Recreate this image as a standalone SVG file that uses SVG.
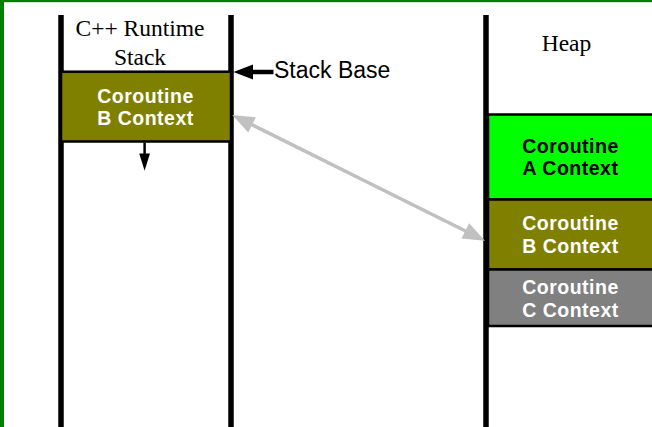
<svg xmlns="http://www.w3.org/2000/svg" width="652" height="427" viewBox="0 0 652 427">
<defs>
<style>
.serif{font-family:"Liberation Serif","Times New Roman",serif;font-size:23.5px;fill:#000;text-anchor:middle}
.lbl{font-family:"Liberation Sans",Arial,sans-serif;font-size:19.5px;font-weight:bold;text-anchor:middle;letter-spacing:0.5px}
.w{fill:#fff}
.k{fill:#000}
.wall{stroke:#000;stroke-width:5.5}
.box{stroke:#000;stroke-width:2.5}
.ga{fill:#c0c0c0}
</style>
</defs>
<rect x="0" y="0" width="652" height="427" fill="#fff"/>
<rect x="0" y="0" width="652" height="2.2" fill="#008000"/>
<rect x="0" y="0" width="4" height="427" fill="#008000"/>

<g id="runtime-stack">
<line class="wall" x1="61" y1="15" x2="61" y2="427"/>
<line class="wall" x1="231" y1="15" x2="231" y2="427"/>
<text class="serif" x="140" y="36">C++ Runtime</text>
<text class="serif" x="140" y="64.5">Stack</text>
</g>

<g id="stack-b-context">
<rect x="61" y="71.7" width="170" height="69.8" fill="#808000" class="box"/>
<text class="lbl w" x="145.5" y="102.5">Coroutine</text>
<text class="lbl w" x="145.5" y="124.5">B Context</text>
</g>

<g id="heap">
<line class="wall" x1="486" y1="15" x2="486" y2="427"/>
<text class="serif" x="566.5" y="50.5">Heap</text>
</g>

<g id="heap-a-context">
<rect x="488" y="114.5" width="170" height="85" fill="#00ff00" class="box"/>
<text class="lbl k" x="570.5" y="152.5">Coroutine</text>
<text class="lbl k" x="570.5" y="175">A Context</text>
</g>
<g id="heap-b-context">
<rect x="488" y="199.5" width="170" height="70" fill="#808000" class="box"/>
<text class="lbl w" x="570.5" y="230">Coroutine</text>
<text class="lbl w" x="570.5" y="252.5">B Context</text>
</g>
<g id="heap-c-context">
<rect x="488" y="269.5" width="170" height="56.5" fill="#808080" class="box"/>
<text class="lbl w" x="570.5" y="294">Coroutine</text>
<text class="lbl w" x="570.5" y="316.5">C Context</text>
</g>

<g id="stack-base-label">
<text x="274" y="77.5" font-family="'Liberation Sans',Arial,sans-serif" font-size="23px" fill="#000">Stack Base</text>
</g>

<g id="connectors">
<line x1="250" y1="72" x2="273.5" y2="72" stroke="#000" stroke-width="4.5"/>
<path d="M233.5,72 L253,64.5 L253,79.5 Z" fill="#000"/>
<line x1="144.6" y1="142.5" x2="144.6" y2="155" stroke="#000" stroke-width="2.5"/>
<path d="M139.2,153.5 L150,153.5 L144.6,170.7 Z" fill="#000"/>
<line x1="250" y1="123.8" x2="467" y2="231.8" stroke="#c0c0c0" stroke-width="3.5"/>
<path class="ga" d="M232.3,115 L248.2,132.4 L255.8,117.2 Z"/>
<path class="ga" d="M485,240.7 L461.5,238.5 L469.1,223.3 Z"/>
</g>
</svg>
